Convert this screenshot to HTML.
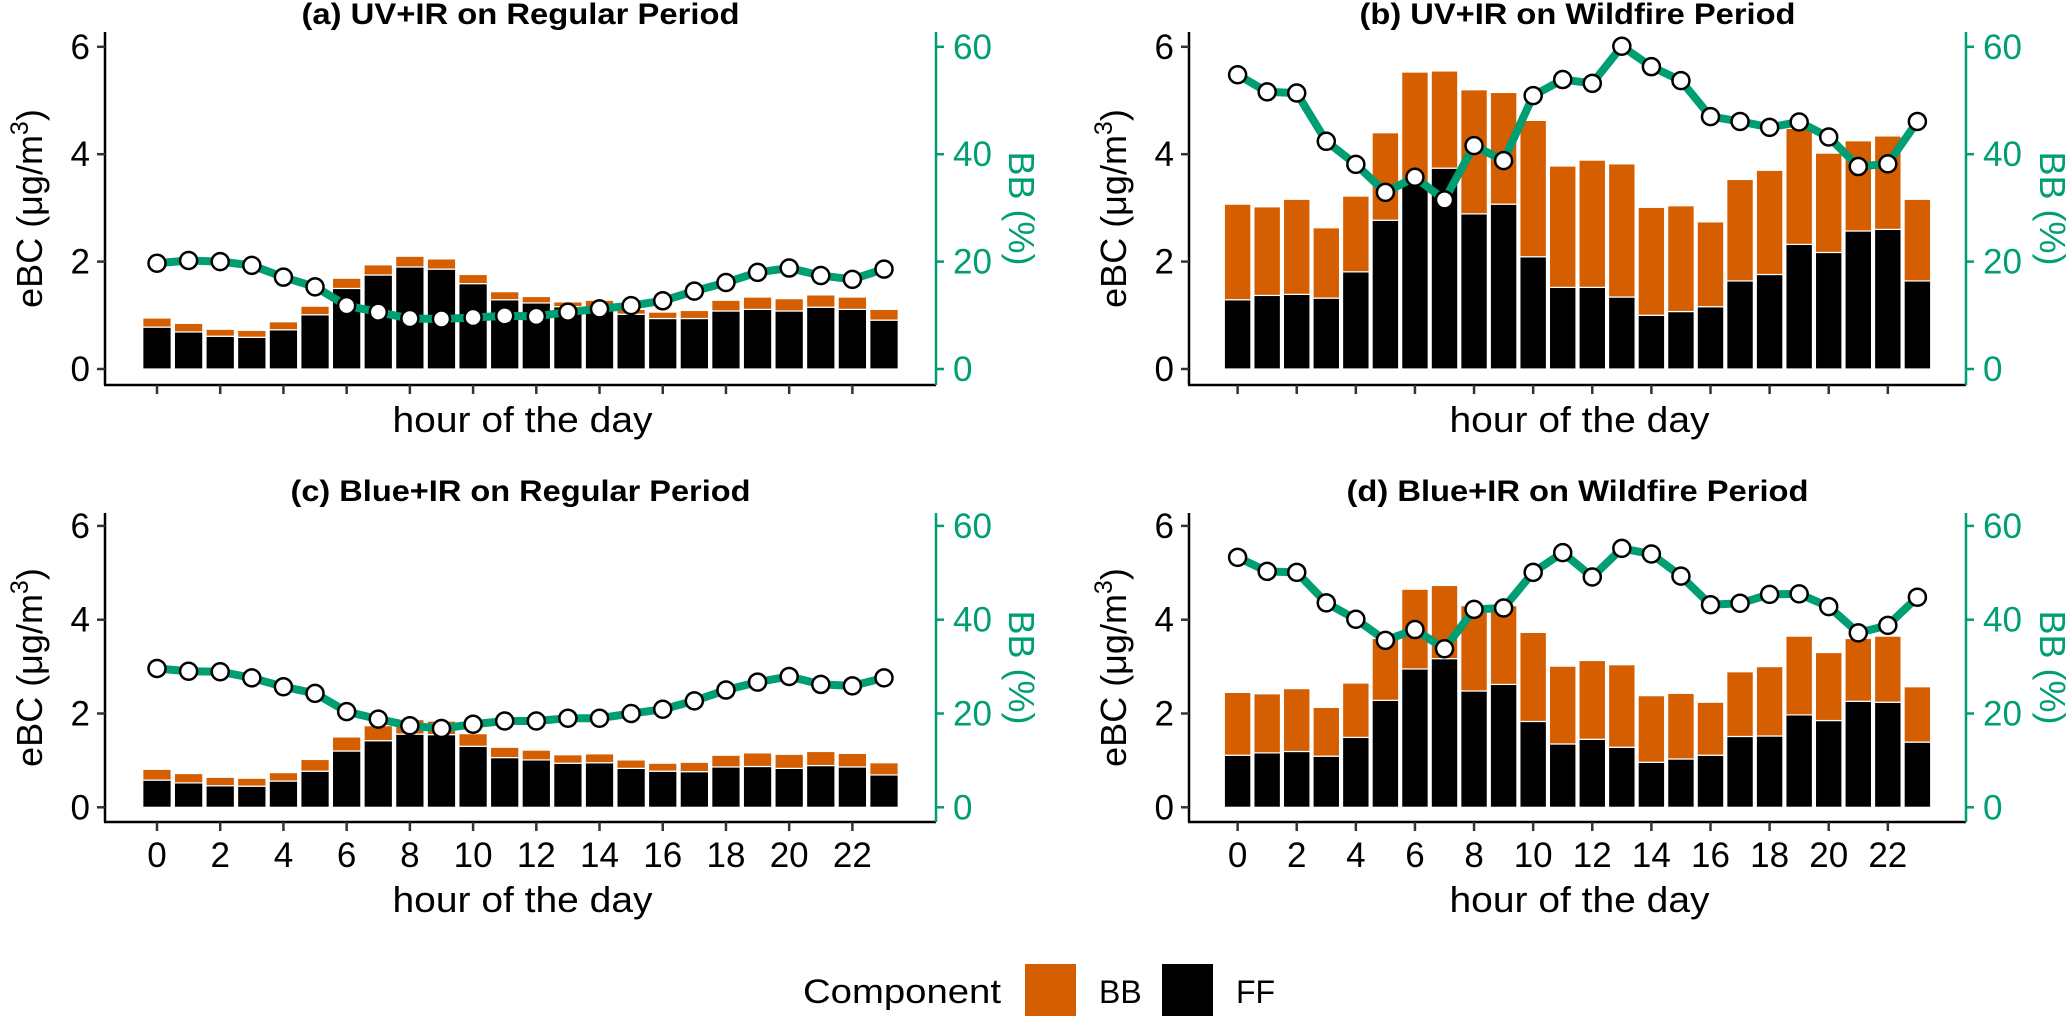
<!DOCTYPE html>
<html><head><meta charset="utf-8">
<style>
html,body{margin:0;padding:0;background:#fff;}
svg{display:block;font-family:"Liberation Sans",Arial,sans-serif;}
</style></head>
<body>
<svg id="fig" width="2067" height="1016" viewBox="0 0 2067 1016" xmlns="http://www.w3.org/2000/svg">
<rect x="0" y="0" width="2067" height="1016" fill="#fff"/>
<g>
<text x="803" y="1003" font-size="34" textLength="198" lengthAdjust="spacingAndGlyphs">Component</text>
<rect x="1025" y="964" width="51" height="52" fill="#D55E00"/>
<text x="1099" y="1003" font-size="32">BB</text>
<rect x="1162" y="964" width="51" height="52" fill="#000"/>
<text x="1236" y="1003" font-size="32">FF</text>
</g>
</svg>
<script>
const hours = [0,1,2,3,4,5,6,7,8,9,10,11,12,13,14,15,16,17,18,19,20,21,22,23];
const yTicks = [0,2,4,6];
const y2Ticks = [0,20,40,60];
const xTicks = [0,2,4,6,8,10,12,14,16,18,20,22];

const aTotal = [0.95,0.85,0.74,0.72,0.88,1.17,1.69,1.94,2.10,2.05,1.76,1.44,1.35,1.25,1.28,1.11,1.06,1.09,1.28,1.34,1.31,1.38,1.34,1.11];
const aFF    = [0.78,0.69,0.61,0.59,0.73,1.01,1.50,1.75,1.90,1.86,1.59,1.29,1.23,1.16,1.12,1.02,0.94,0.94,1.08,1.11,1.08,1.15,1.11,0.91];
const aBB    = [19.7,20.2,20.0,19.3,17.1,15.3,11.8,10.6,9.4,9.3,9.6,9.9,9.8,10.6,11.2,11.8,12.7,14.5,16.1,18.0,18.8,17.4,16.7,18.6];

const bTotal = [3.07,3.02,3.16,2.63,3.22,4.40,5.53,5.55,5.20,5.15,4.63,3.78,3.89,3.82,3.01,3.04,2.74,3.53,3.70,4.48,4.02,4.25,4.34,3.16];
const bFF    = [1.29,1.37,1.39,1.32,1.81,2.77,3.45,3.74,2.89,3.07,2.09,1.52,1.52,1.34,1.00,1.07,1.16,1.64,1.76,2.32,2.17,2.57,2.60,1.64];
const bBB    = [54.8,51.6,51.4,42.4,38.1,32.9,35.7,31.5,41.6,38.8,50.9,53.9,53.2,60.1,56.3,53.7,47.0,46.1,45.0,46.0,43.2,37.7,38.2,46.1];

const cTotal = [0.81,0.72,0.64,0.62,0.74,1.02,1.50,1.74,1.87,1.84,1.57,1.28,1.22,1.12,1.14,1.01,0.94,0.96,1.11,1.16,1.13,1.19,1.15,0.95];
const cFF    = [0.58,0.52,0.46,0.45,0.56,0.77,1.20,1.42,1.56,1.55,1.30,1.06,1.01,0.94,0.95,0.83,0.77,0.76,0.86,0.87,0.83,0.89,0.86,0.69];
const cBB    = [29.6,29.0,28.9,27.6,25.7,24.3,20.4,18.8,17.4,16.8,17.7,18.4,18.4,19.0,19.0,20.0,20.9,22.7,25.0,26.7,27.9,26.2,25.9,27.6];

const dTotal = [2.45,2.42,2.53,2.13,2.65,3.60,4.65,4.73,4.30,4.30,3.73,3.01,3.13,3.04,2.38,2.43,2.24,2.89,3.00,3.65,3.30,3.60,3.65,2.57];
const dFF    = [1.11,1.16,1.19,1.09,1.49,2.28,2.95,3.17,2.48,2.62,1.83,1.35,1.45,1.28,0.96,1.03,1.11,1.51,1.52,1.97,1.85,2.26,2.24,1.39];
const dBB    = [53.3,50.3,50.1,43.6,40.1,35.6,37.9,33.8,42.2,42.5,50.1,54.3,49.1,55.2,54.0,49.3,43.2,43.5,45.4,45.5,42.8,37.2,38.8,44.8];

const NS = "http://www.w3.org/2000/svg";
const svgEl = document.getElementById('fig');
function mk(tag, attrs, parent){
  const e = document.createElementNS(NS, tag);
  for (const k in attrs) e.setAttribute(k, attrs[k]);
  (parent||svgEl).appendChild(e);
  return e;
}
const ORANGE="#D55E00", GREEN="#009E73";

function panel(p){
  const g = mk('g', {});
  
  
  const W = p.right - p.left;
  const pxH = W / 26.29;
  const xs = h => p.left + (h + 1.645) * pxH;
  const ys = v => p.y0 - v * p.unit;
  const ys2 = v => ys(v / 10);
  const bw = pxH * 0.9;
  hours.forEach((h, i) => {
    const ff = mk('rect', {x: xs(h) - bw/2, y: ys(p.ff[i]), width: bw, height: ys(0) - ys(p.ff[i]), fill: '#000', stroke: '#fff', 'stroke-width': 1.2}, g);
    
    
    const bb = mk('rect', {x: xs(h) - bw/2, y: ys(p.total[i]), width: bw, height: ys(p.ff[i]) - ys(p.total[i]), fill: ORANGE, stroke: '#fff', 'stroke-width': 1.2}, g);
    
    
  });
  const pts = hours.map((h, i) => xs(h) + ',' + ys2(p.bb[i])).join(' ');
  const line = mk('polyline', {points: pts, fill: 'none', stroke: GREEN, 'stroke-width': 8, 'stroke-linejoin': 'round'}, g);
  
  
  hours.forEach((h, i) => {
    const c = mk('circle', {cx: xs(h), cy: ys2(p.bb[i]), r: 8.5, fill: '#fff', stroke: '#000', 'stroke-width': 2.5}, g);
    
    
  });
  const la = mk('line', {x1: p.left, y1: p.top, x2: p.left, y2: p.bottom, stroke: '#000', 'stroke-width': 2.5}, g);
  
  
  const ba = mk('line', {x1: p.left - 1, y1: p.bottom, x2: p.right, y2: p.bottom, stroke: '#000', 'stroke-width': 2.5}, g);
  
  
  const ra = mk('line', {x1: p.right, y1: p.top, x2: p.right, y2: p.bottom, stroke: GREEN, 'stroke-width': 2.5}, g);
  
  
  yTicks.forEach(v => {
    mk('line', {x1: p.left - 8, y1: ys(v), x2: p.left, y2: ys(v), stroke: '#333', 'stroke-width': 2.5}, g);
    const t = mk('text', {x: p.left - 15, y: ys(v) + 12, 'font-size': 35, 'text-anchor': 'end', fill: '#000'}, g);
    t.textContent = v;
    
    
  });
  y2Ticks.forEach(v => {
    mk('line', {x1: p.right, y1: ys2(v), x2: p.right + 8, y2: ys2(v), stroke: GREEN, 'stroke-width': 2.5}, g);
    const t = mk('text', {x: p.right + 17, y: ys2(v) + 12, 'font-size': 35, fill: GREEN}, g);
    t.textContent = v;
    
    
  });
  xTicks.forEach(h => {
    mk('line', {x1: xs(h), y1: p.bottom, x2: xs(h), y2: p.bottom + 9, stroke: '#333', 'stroke-width': 2.5}, g);
    if (p.xLabels) {
      const t = mk('text', {x: xs(h), y: p.bottom + 45, 'font-size': 35, 'text-anchor': 'middle'}, g);
      t.textContent = h;
      
      
    }
  });
  const xt = mk('text', {x: (p.left + p.right) / 2 + 2, y: p.xTitleY, 'font-size': 36, 'text-anchor': 'middle', textLength: 260, lengthAdjust: 'spacingAndGlyphs'}, g);
  xt.textContent = 'hour of the day';
  
  
  const cy = (p.top + p.bottom) / 2;
  const yt = mk('text', {x: 0, y: 0, 'font-size': 36, 'text-anchor': 'middle', transform: 'translate(' + (p.yTitleX) + ',' + cy + ') rotate(-90)'}, g);
  yt.innerHTML = 'eBC (μg/m<tspan dy="-14" font-size="25">3</tspan><tspan dy="14">)</tspan>';
  
  
  const y2t = mk('text', {x: 0, y: 0, 'font-size': 36, 'text-anchor': 'middle', fill: GREEN, transform: 'translate(' + (p.y2TitleX) + ',' + cy + ') rotate(90)'}, g);
  y2t.textContent = 'BB (%)';
  
  
  const tt = mk('text', {x: (p.left + p.right) / 2, y: p.titleY, 'font-size': 30, 'font-weight': 'bold', 'text-anchor': 'middle', textLength: p.titleW, lengthAdjust: 'spacingAndGlyphs'}, g);
  tt.textContent = p.title;
  
  
}

const topRow = {top: 32, bottom: 385, y0: 369, unit: 53.7, xLabels: false, xTitleY: 432, titleY: 24};
const botRow = {top: 513, bottom: 822, y0: 807.3, unit: 46.9, xLabels: true, xTitleY: 912, titleY: 501};
const leftCol = {left: 105, right: 936, yTitleX: 42, y2TitleX: 1009};
const rightCol = {left: 1189, right: 1966, yTitleX: 1126, y2TitleX: 2040};

panel(Object.assign({key: 'a', title: '(a) UV+IR on Regular Period', titleW: 438, total: aTotal, ff: aFF, bb: aBB}, topRow, leftCol));
panel(Object.assign({key: 'b', title: '(b) UV+IR on Wildfire Period', titleW: 436, total: bTotal, ff: bFF, bb: bBB}, topRow, rightCol));
panel(Object.assign({key: 'c', title: '(c) Blue+IR on Regular Period', titleW: 460, total: cTotal, ff: cFF, bb: cBB}, botRow, leftCol));
panel(Object.assign({key: 'd', title: '(d) Blue+IR on Wildfire Period', titleW: 462, total: dTotal, ff: dFF, bb: dBB}, botRow, rightCol));
</script>
</body></html>
